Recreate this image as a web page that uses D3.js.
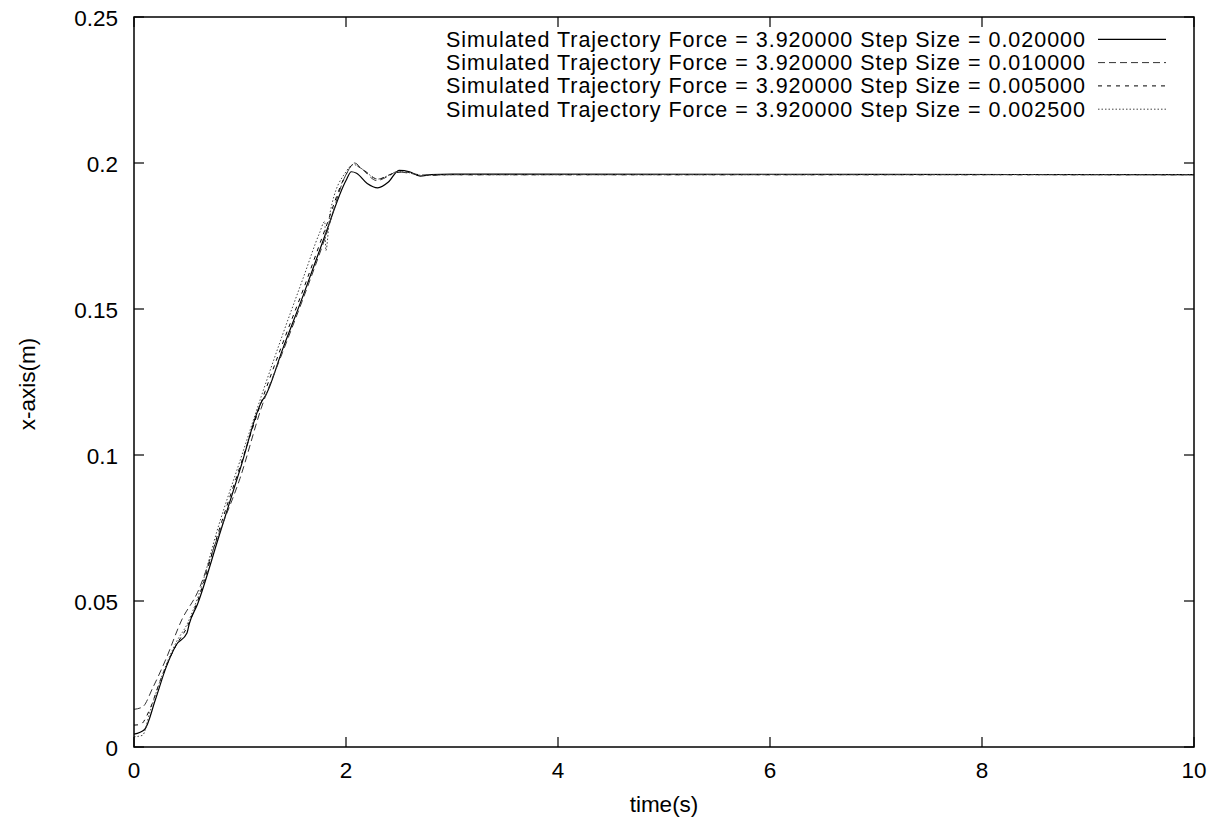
<!DOCTYPE html>
<html><head><meta charset="utf-8">
<script src="https://cdn.jsdelivr.net/npm/d3@7"></script>
<style>body{margin:0;background:#fff}svg{display:block}text{font-family:"Liberation Sans",Arial,sans-serif;fill:#000}</style>
</head><body><svg id="c" width="1219" height="820"></svg>
<script>
const xTicks = [0, 2, 4, 6, 8, 10];
const yTicks = [0, 0.05, 0.1, 0.15, 0.2, 0.25];
const yTickLabels = ["0", "0.05", "0.1", "0.15", "0.2", "0.25"];
const seriesNames = [
  "Simulated Trajectory Force = 3.920000 Step Size = 0.020000",
  "Simulated Trajectory Force = 3.920000 Step Size = 0.010000",
  "Simulated Trajectory Force = 3.920000 Step Size = 0.005000",
  "Simulated Trajectory Force = 3.920000 Step Size = 0.002500"
];
const t020 = [0, 0.1, 0.2, 0.3, 0.4, 0.5, 0.52, 0.6, 0.8, 1.0, 1.2, 1.25, 1.4, 1.6, 1.8, 2.0, 2.05, 2.1, 2.2, 2.3, 2.4, 2.5, 2.6, 2.7, 2.8, 3.0, 10];
const v020 = [0.0044, 0.006, 0.016, 0.027, 0.035, 0.039, 0.042, 0.049, 0.072, 0.095, 0.118, 0.121, 0.136, 0.155, 0.175, 0.194, 0.197, 0.1965, 0.193, 0.1915, 0.1935, 0.1975, 0.197, 0.1955, 0.196, 0.1962, 0.196];
const t010 = [0, 0.08, 0.18, 0.3, 0.45, 0.6, 0.8, 1.0, 1.2, 1.4, 1.6, 1.8, 2.0, 2.08, 2.15, 2.29, 2.4, 2.48, 2.6, 2.75, 3.0, 10];
const v010 = [0.0129, 0.0137, 0.0205, 0.030, 0.0435, 0.053, 0.073, 0.092, 0.116, 0.135, 0.154, 0.174, 0.196, 0.2, 0.198, 0.194, 0.1955, 0.197, 0.1965, 0.1958, 0.196, 0.196];
const t005 = [0, 0.06, 0.15, 0.25, 0.4, 0.5, 0.6, 0.8, 1.0, 1.2, 1.4, 1.6, 1.8, 2.0, 2.07, 2.15, 2.3, 2.45, 2.55, 2.7, 3.0, 10];
const v005 = [0.0075, 0.0077, 0.013, 0.023, 0.035, 0.041, 0.05, 0.074, 0.096, 0.118, 0.138, 0.157, 0.177, 0.196, 0.1995, 0.198, 0.1945, 0.1965, 0.197, 0.1958, 0.196, 0.196];
const t0025 = [0, 0.08, 0.15, 0.25, 0.4, 0.5, 0.6, 0.8, 1.0, 1.2, 1.4, 1.6, 1.75, 1.8, 1.81, 1.85, 2.0, 2.07, 2.15, 2.3, 2.45, 2.55, 2.7, 3.0, 10];
const v0025 = [0.0035, 0.004, 0.012, 0.023, 0.036, 0.042, 0.051, 0.076, 0.098, 0.12, 0.141, 0.161, 0.176, 0.18, 0.17, 0.183, 0.197, 0.1995, 0.198, 0.1945, 0.1965, 0.197, 0.1958, 0.196, 0.196];

const series = [
  {name: seriesNames[0], t: t020, v: v020, dash: null, color: "#000", lw: 1.2},
  {name: seriesNames[1], t: t010, v: v010, dash: "7,4", color: "#333", lw: 1},
  {name: seriesNames[2], t: t005, v: v005, dash: "4,5", color: "#000", lw: 1},
  {name: seriesNames[3], t: t0025, v: v0025, dash: "1.5,2", color: "#444", lw: 1}
];

const svg = d3.select("#c");
const L = 134, R = 1194, T = 17, B = 747;
const x = d3.scaleLinear().domain([0, 10]).range([L, R]);
const y = d3.scaleLinear().domain([0, 0.25]).range([B, T]);

const tl = 10;
const g = svg.append("g").attr("stroke", "#000").attr("stroke-width", 1.2);
xTicks.forEach(d => {
  g.append("line").attr("x1", x(d)).attr("x2", x(d)).attr("y1", B).attr("y2", B - tl);
  g.append("line").attr("x1", x(d)).attr("x2", x(d)).attr("y1", T).attr("y2", T + tl);
});
yTicks.forEach(d => {
  g.append("line").attr("x1", L).attr("x2", L + tl).attr("y1", y(d)).attr("y2", y(d));
  g.append("line").attr("x1", R).attr("x2", R - tl).attr("y1", y(d)).attr("y2", y(d));
});
const FS = 22.5;
xTicks.forEach(d => {
  svg.append("text").attr("x", x(d)).attr("y", 778).attr("text-anchor", "middle")
    .attr("font-size", FS).text(d);
});
yTicks.forEach((d, i) => {
  svg.append("text").attr("x", 118).attr("y", y(d) + 8.5).attr("text-anchor", "end")
    .attr("font-size", FS).text(yTickLabels[i]);
});
svg.append("text").attr("x", (L + R) / 2).attr("y", 812).attr("text-anchor", "middle")
  .attr("font-size", FS).text("time(s)");
svg.append("text").attr("transform", `translate(35,384) rotate(-90)`)
  .attr("text-anchor", "middle").attr("font-size", FS).text("x-axis(m)");

const line = d3.line().x(d => x(d[0])).y(d => y(d[1])).curve(d3.curveMonotoneX);
series.forEach(s => {
  const pts = s.t.map((t, i) => [t, s.v[i]]);
  svg.append("path").attr("d", line(pts)).attr("fill", "none").attr("stroke", s.color)
    .attr("stroke-width", s.lw).attr("stroke-dasharray", s.dash);
});

series.forEach((s, i) => {
  const yy = 39.3 + i * 23.3;
  svg.append("text").attr("x", 446).attr("y", yy + 7.5).attr("text-anchor", "start")
    .attr("font-size", 21.5).attr("textLength", 639).attr("lengthAdjust", "spacing")
    .text(s.name);
  svg.append("line").attr("x1", 1098).attr("x2", 1166).attr("y1", yy).attr("y2", yy)
    .attr("stroke", s.color).attr("stroke-width", s.lw).attr("stroke-dasharray", s.dash);
});

svg.append("rect").attr("x", L).attr("y", T).attr("width", R - L).attr("height", B - T)
  .attr("fill", "none").attr("stroke", "#000").attr("stroke-width", 1.5);
</script></body></html>
